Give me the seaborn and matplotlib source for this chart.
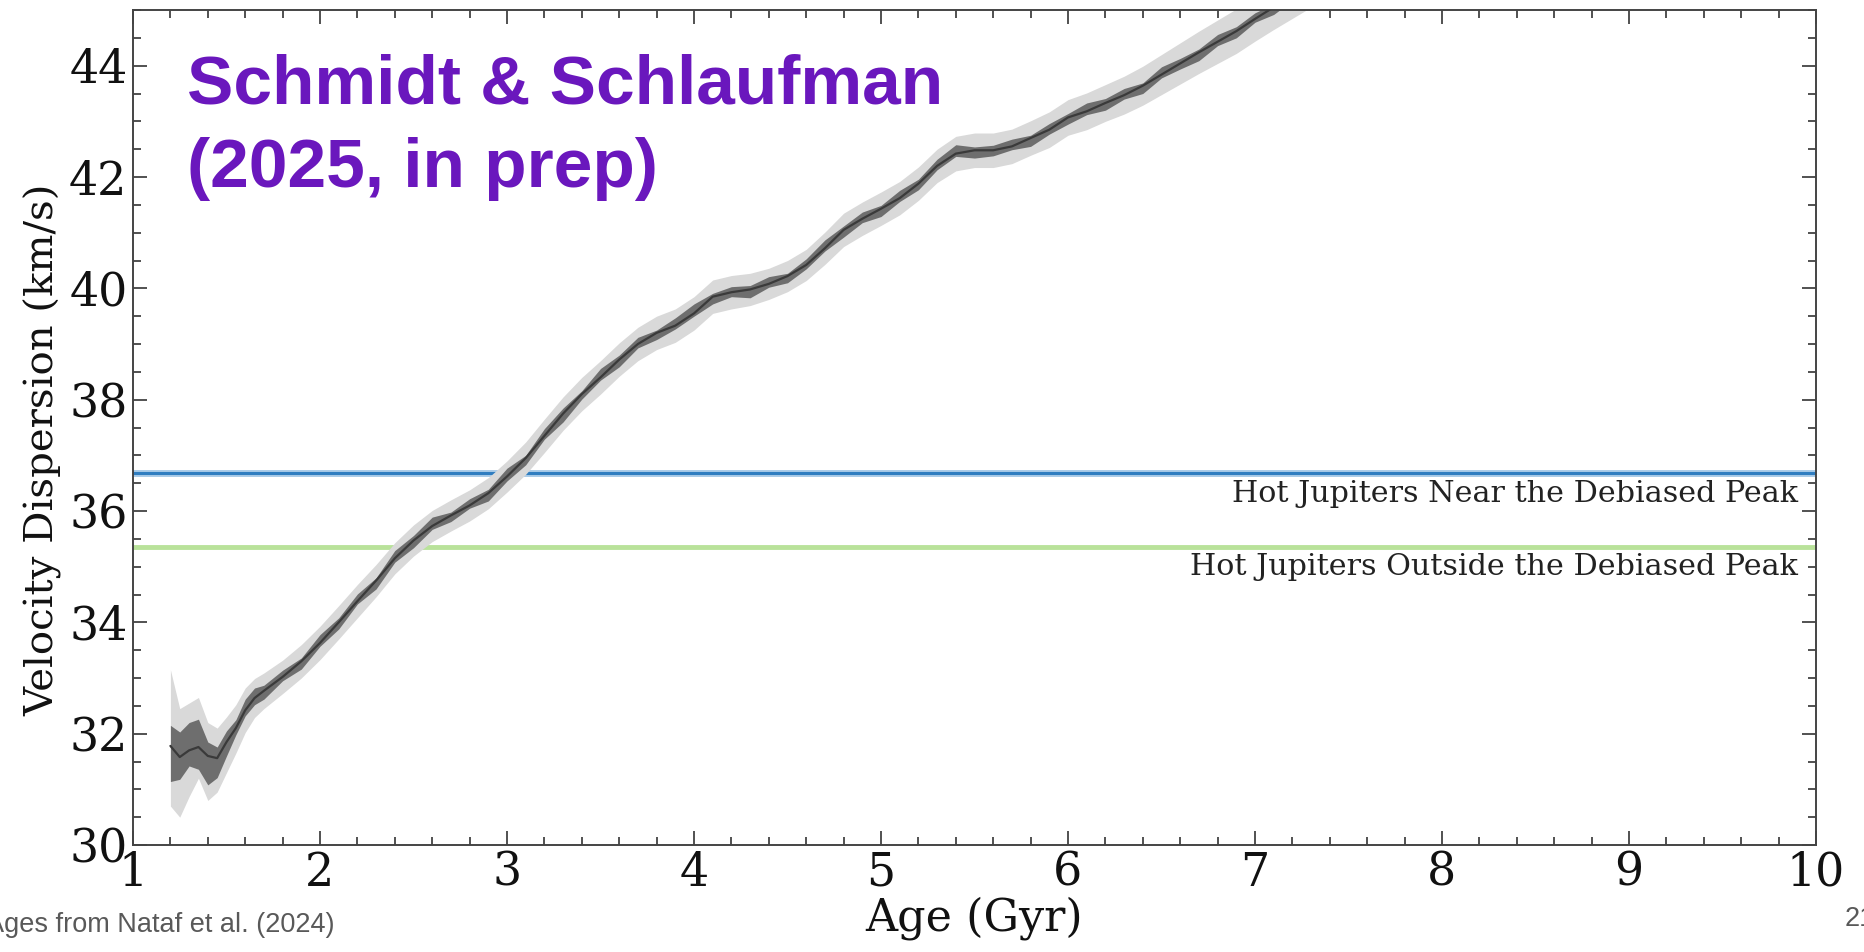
import numpy as np
import matplotlib
matplotlib.use("Agg")
import matplotlib.pyplot as plt
import seaborn as sns
from matplotlib.ticker import MultipleLocator
from matplotlib import font_manager

# ---------------- data ----------------
ages = [1.20, 1.25, 1.30, 1.35, 1.40, 1.45, 1.50, 1.55, 1.60, 1.65, 1.70,
        1.80, 1.90, 2.00, 2.10, 2.20, 2.30, 2.40, 2.50, 2.60, 2.70,
        2.80, 2.90, 3.00, 3.10, 3.20, 3.30, 3.40, 3.50, 3.60, 3.70,
        3.80, 3.90, 4.00, 4.10, 4.20, 4.30, 4.40, 4.50, 4.60, 4.70,
        4.80, 4.90, 5.00, 5.10, 5.20, 5.30, 5.40, 5.50, 5.60, 5.70,
        5.80, 5.90, 6.00, 6.10, 6.20, 6.30, 6.40, 6.50, 6.60, 6.70,
        6.80, 6.90, 7.00, 7.10, 7.20, 7.30]

dispersion = [31.78, 31.58, 31.70, 31.76, 31.60, 31.56, 31.85, 32.10, 32.42, 32.64, 32.77,
              33.02, 33.30, 33.63, 34.00, 34.38, 34.75, 35.15, 35.47, 35.73, 35.92,
              36.10, 36.32, 36.62, 36.95, 37.35, 37.75, 38.10, 38.40, 38.72, 39.00,
              39.20, 39.33, 39.55, 39.85, 39.93, 39.98, 40.08, 40.22, 40.42, 40.72,
              41.05, 41.25, 41.43, 41.62, 41.88, 42.20, 42.42, 42.48, 42.48, 42.55,
              42.70, 42.85, 43.07, 43.18, 43.33, 43.47, 43.64, 43.84, 44.04, 44.24,
              44.43, 44.62, 44.84, 45.05, 45.25, 45.45]

# outer (light) uncertainty band: upper / lower offsets from the curve
outer_up = [1.37, 0.87, 0.85, 0.89, 0.60, 0.54, 0.45, 0.42, 0.40, 0.35, 0.32,
            0.30, 0.30, 0.30, 0.30, 0.30, 0.29, 0.28, 0.28, 0.28, 0.28,
            0.28, 0.28, 0.28, 0.29, 0.30, 0.30, 0.30, 0.30, 0.30, 0.30,
            0.30, 0.30, 0.30, 0.30, 0.30, 0.29, 0.28, 0.28, 0.28, 0.29,
            0.30, 0.30, 0.30, 0.30, 0.30, 0.30, 0.31, 0.31, 0.31, 0.31,
            0.31, 0.32, 0.32, 0.33, 0.33, 0.34, 0.35, 0.36, 0.37, 0.38,
            0.39, 0.40, 0.40, 0.40, 0.40, 0.40]
outer_lo = [1.08, 1.08, 0.83, 0.56, 0.80, 0.61, 0.55, 0.45, 0.40, 0.35, 0.32,
            0.30, 0.30, 0.30, 0.30, 0.30, 0.29, 0.28, 0.28, 0.28, 0.28,
            0.28, 0.28, 0.28, 0.29, 0.30, 0.30, 0.30, 0.30, 0.30, 0.30,
            0.30, 0.30, 0.30, 0.30, 0.30, 0.29, 0.28, 0.28, 0.28, 0.29,
            0.30, 0.30, 0.30, 0.30, 0.30, 0.30, 0.31, 0.31, 0.31, 0.31,
            0.31, 0.32, 0.32, 0.33, 0.33, 0.34, 0.35, 0.36, 0.37, 0.38,
            0.39, 0.40, 0.40, 0.40, 0.40, 0.40]

# inner (dark, noisy) band: upper / lower offsets from the curve
inner_up = [0.37, 0.45, 0.50, 0.50, 0.25, 0.20, 0.20, 0.15, 0.20, 0.18, 0.10,
            0.12, 0.06, 0.15, 0.08, 0.13, 0.05, 0.14, 0.09, 0.16, 0.06,
            0.12, 0.07, 0.15, 0.05, 0.13, 0.10, 0.06, 0.16, 0.08, 0.12,
            0.05, 0.14, 0.17, 0.06, 0.10, 0.07, 0.13, 0.05, 0.11, 0.15,
            0.07, 0.12, 0.06, 0.14, 0.08, 0.12, 0.16, 0.06, 0.09, 0.13,
            0.05, 0.11, 0.07, 0.15, 0.08, 0.12, 0.05, 0.14, 0.09, 0.06,
            0.13, 0.08, 0.11, 0.06, 0.10, 0.08]
inner_lo = [0.64, 0.40, 0.28, 0.40, 0.52, 0.35, 0.25, 0.12, 0.10, 0.12, 0.15,
            0.07, 0.14, 0.06, 0.12, 0.05, 0.15, 0.07, 0.13, 0.06, 0.11,
            0.05, 0.14, 0.08, 0.12, 0.06, 0.15, 0.09, 0.05, 0.13, 0.07,
            0.12, 0.06, 0.05, 0.13, 0.08, 0.15, 0.06, 0.12, 0.07, 0.05,
            0.13, 0.07, 0.14, 0.06, 0.11, 0.07, 0.05, 0.14, 0.10, 0.06,
            0.15, 0.08, 0.12, 0.06, 0.13, 0.07, 0.14, 0.06, 0.10, 0.15,
            0.07, 0.12, 0.06, 0.13, 0.08, 0.10]

near_peak_disp = 36.68
outside_peak_disp = 35.35
ref_labels = ["Hot Jupiters Near the Debiased Peak",
              "Hot Jupiters Outside the Debiased Peak"]
x_ticks = [1, 2, 3, 4, 5, 6, 7, 8, 9, 10]
y_ticks = [30, 32, 34, 36, 38, 40, 42, 44]

# ---------------- figure ----------------
sns.set_theme(style="ticks")
plt.rcParams["font.family"] = ["DejaVu Serif"]

# condensed serif for the reference-line labels if it is installed
installed = {f.name for f in font_manager.fontManager.ttflist}
if "DejaVu Serif Condensed" in installed:
    lab_family, lab_size = "DejaVu Serif Condensed", 24
else:
    lab_family, lab_size = "DejaVu Serif", 21.7

W, H = 1865, 952
fig = plt.figure(figsize=(W / 100, H / 100), dpi=100)
ax = fig.add_axes([133 / W, 1 - 845 / H, (1816 - 133) / W, (845 - 10) / H])

a = np.array(ages)
d = np.array(dispersion)
ax.fill_between(a, d - np.array(outer_lo), d + np.array(outer_up),
                color="#d9d9d9", lw=0, zorder=1)
ax.fill_between(a, d - np.array(inner_lo), d + np.array(inner_up),
                color="#6e6e6e", lw=0, zorder=2)
sns.lineplot(x=ages, y=dispersion, ax=ax, color="#3a3a3a", linewidth=1.6,
             zorder=3, estimator=None, sort=False)

ax.axhline(near_peak_disp, color="#a9cbe8", lw=5.0, zorder=0.5)
ax.axhline(near_peak_disp, color="#2f7dc0", lw=2.2, zorder=0.6)
ax.axhline(outside_peak_disp, color="#b9e29a", lw=3.5, zorder=0.5)

ax.text(1798 / W, 1 - 494 / H, ref_labels[0], transform=fig.transFigure,
        ha="right", va="center", fontsize=lab_size, color="#222222",
        family=lab_family)
ax.text(1798 / W, 1 - 567 / H, ref_labels[1], transform=fig.transFigure,
        ha="right", va="center", fontsize=lab_size, color="#222222",
        family=lab_family)

ax.set_xlim(1, 10)
ax.set_ylim(30, 45)
ax.set_xticks(x_ticks)
ax.set_yticks(y_ticks)
ax.xaxis.set_minor_locator(MultipleLocator(0.2))
ax.yaxis.set_minor_locator(MultipleLocator(0.5))
ax.tick_params(which="both", direction="in", top=True, right=True,
               color="#333333", width=1.2)
ax.tick_params(which="major", length=10, labelsize=33, labelcolor="#111111")
ax.tick_params(axis="x", which="major", pad=4)
ax.tick_params(axis="y", which="major", pad=4)
ax.tick_params(which="minor", length=5.5)
for s in ax.spines.values():
    s.set_color("#444444")
    s.set_linewidth(1.4)

ax.set_xlabel("Age (Gyr)", fontsize=32, color="#111111")
ax.xaxis.set_label_coords(0.5, -0.062)
ax.set_ylabel("Velocity Dispersion (km/s)", fontsize=29, color="#111111")
ax.yaxis.set_label_coords(-0.042, 0.473)

purple = "#6a17bd"
fig.text(187 / W, 1 - 103 / H, "Schmidt & Schlaufman", fontsize=50,
         fontweight="bold", color=purple, family="Liberation Sans",
         ha="left", va="baseline")
fig.text(187 / W, 1 - 187 / H, "(2025, in prep)", fontsize=50,
         fontweight="bold", color=purple, family="Liberation Sans",
         ha="left", va="baseline")

fig.text(-14 / W, 1 - 925 / H, "Ages from Nataf et al. (2024)", fontsize=19.5,
         color="#595959", family="Liberation Sans", ha="left", va="center")
fig.text(1845 / W, 1 - 919 / H, "21", fontsize=19.5,
         color="#595959", family="Liberation Sans", ha="left", va="center")

fig.savefig("out.png", dpi=100, facecolor="white")
